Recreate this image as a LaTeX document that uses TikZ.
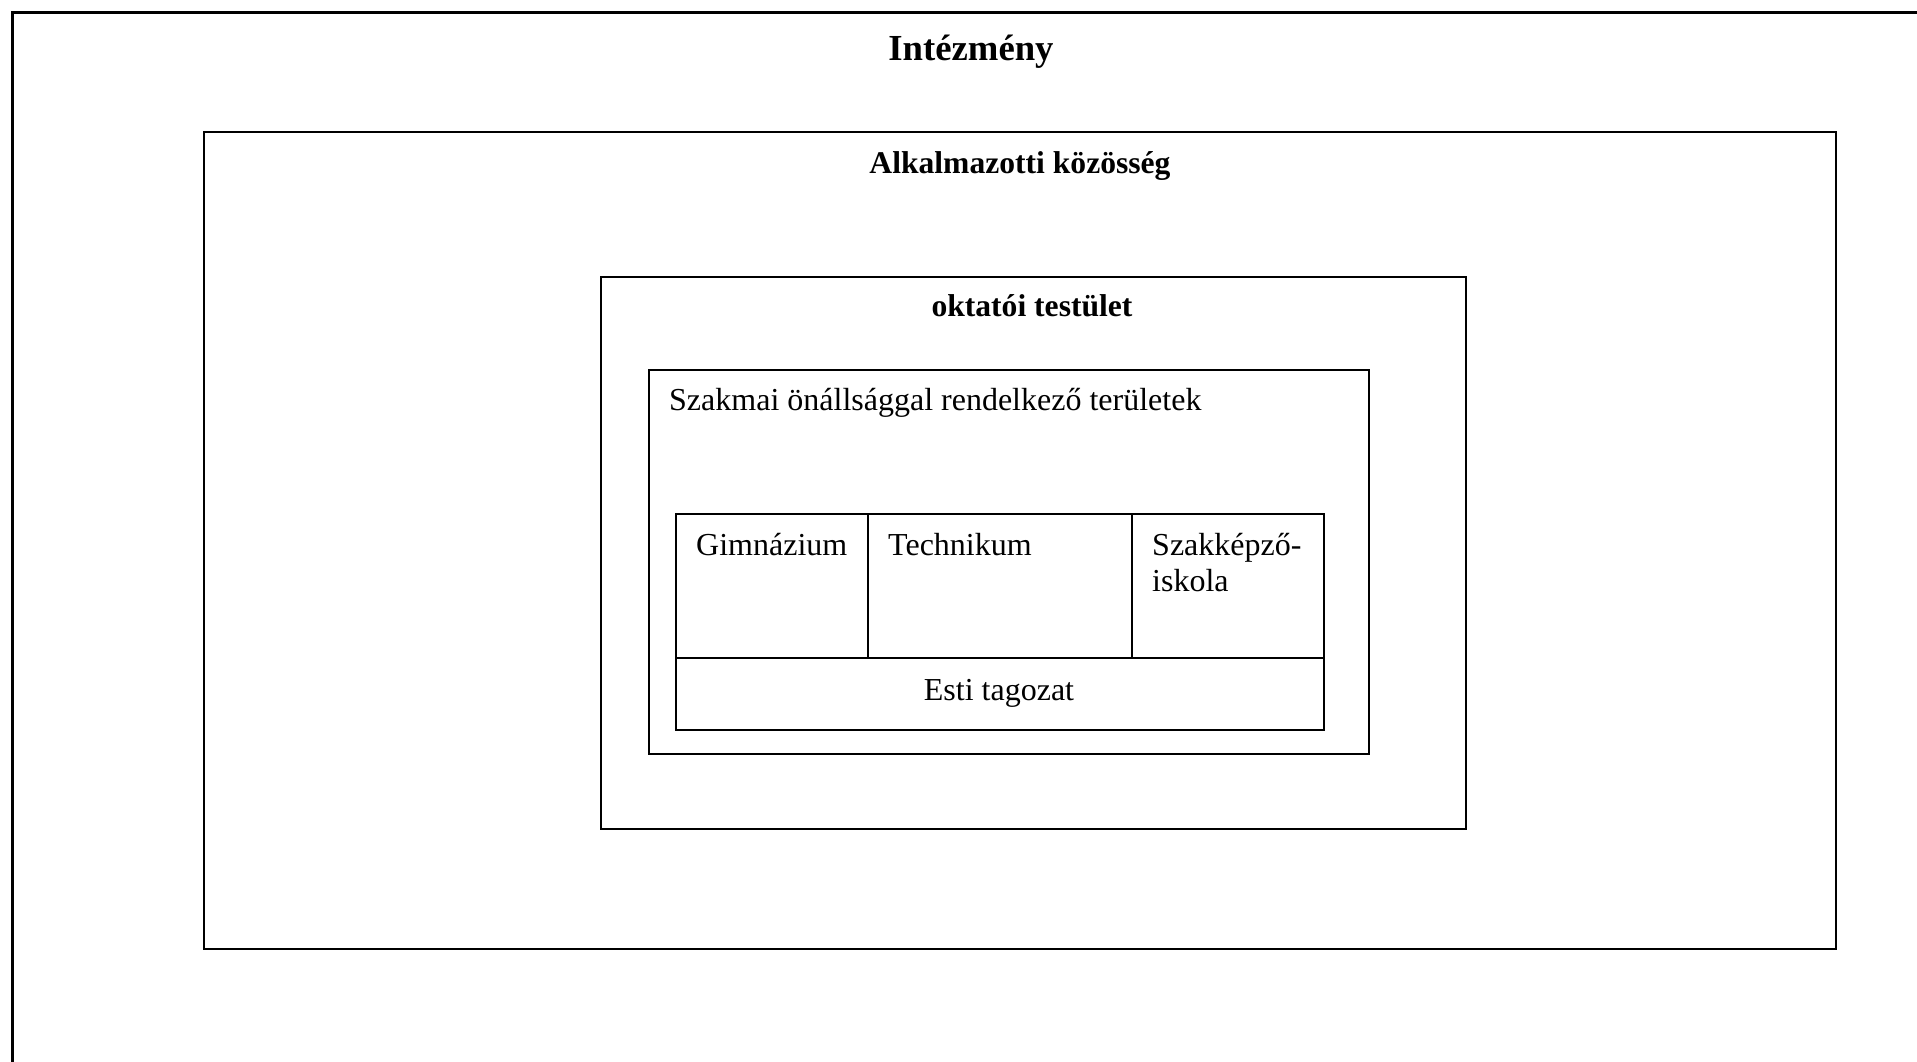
\documentclass[tikz,border=0pt]{standalone}
\usepackage{fontspec}
\setmainfont{Liberation Serif}
\begin{document}
\begin{tikzpicture}[x=1pt,y=-1pt,
  box/.style={draw=black,line width=2pt,inner sep=0pt},
  lbl/.style={inner sep=0pt,font=\fontsize{32}{38}\selectfont},
  blbl/.style={inner sep=0pt,font=\fontsize{31.6}{38}\selectfont\bfseries},
  tlbl/.style={inner sep=0pt,font=\fontsize{36.7}{44}\selectfont\bfseries}]
\useasboundingbox (0,0) rectangle (1917,1061);
\clip (0,0) rectangle (1917,1061);
\fill[white] (0,0) rectangle (1917,1061);
% outer box (extends beyond the picture)
\node[box,line width=2.5pt,anchor=north west,minimum width=1960pt,minimum height=1100pt] (inst) at (11,11) {};
\node[tlbl,anchor=mid] (instt) at (971,58) {Intézmény};
% Alkalmazotti
\node[box,anchor=north west,minimum width=1632pt,minimum height=817pt] (alk) at (203,131) {};
\node[blbl,anchor=mid] (alkt) at (1020,171.5) {Alkalmazotti közösség};
% oktatói testület
\node[box,anchor=north west,minimum width=865pt,minimum height=552pt] (okt) at (600,276) {};
\node[blbl,anchor=mid] (oktt) at (1032,314.5) {oktatói testület};
% Szakmai
\node[box,anchor=north west,minimum width=720pt,minimum height=384pt] (szak) at (648,369) {};
\node[lbl,anchor=mid west] (szakt) at (669,408.5) {Szakmai önállsággal rendelkező területek};
% table
\node[box,anchor=north west,minimum width=192pt,minimum height=144pt] (gim) at (675,513) {};
\node[box,anchor=north west,minimum width=264pt,minimum height=144pt] (tech) at (867,513) {};
\node[box,anchor=north west,minimum width=192pt,minimum height=144pt] (szki) at (1131,513) {};
\node[box,anchor=north west,minimum width=648pt,minimum height=72pt] (esti) at (675,657) {};
\node[lbl,anchor=mid west] (gimt) at (696,553.5) {Gimnázium};
\node[lbl,anchor=mid west] (techt) at (888,553.5) {Technikum};
\node[lbl,anchor=mid west] (szkit1) at (1152,553.5) {Szakképző-};
\node[lbl,anchor=mid west] (szkit2) at (1152,589.5) {iskola};
\node[lbl,anchor=mid] (estit) at (999,698.5) {Esti tagozat};
\end{tikzpicture}
\end{document}
